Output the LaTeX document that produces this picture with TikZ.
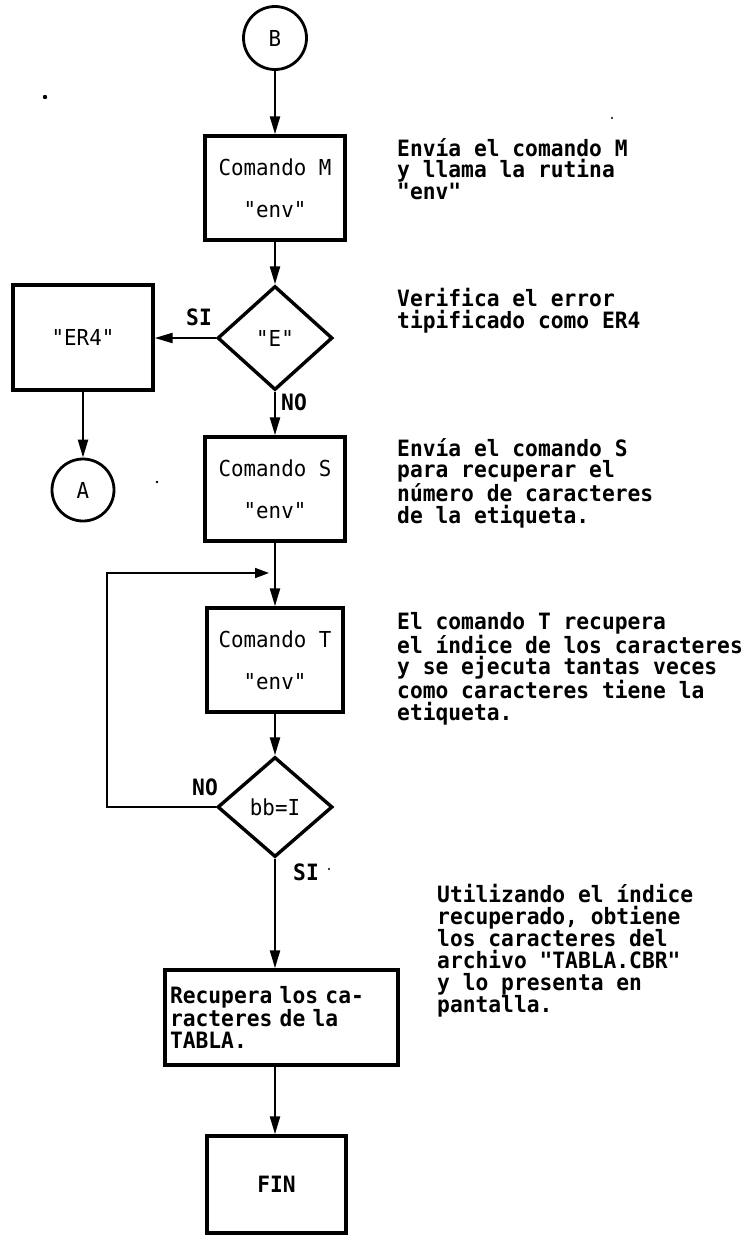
\documentclass[tikz,border=0pt]{standalone}
\usepackage{fontspec}
\usetikzlibrary{shapes.geometric,arrows.meta}
\newfontfamily\dmono[FakeStretch=0.945]{DejaVu Sans Mono}
\newcommand\notefont{\dmono\bfseries\fontsize{22.5}{21.6}\selectfont}
\newcommand\boxfont{\dmono\fontsize{22}{21.6}\selectfont}
\begin{document}
\begin{tikzpicture}[x=1pt,y=-1pt,
  proc/.style={draw, line width=3.4pt, minimum width=140pt, minimum height=104pt,
               inner sep=0pt, font=\boxfont, align=center},
  dec/.style={draw, diamond, line width=3.4pt, minimum width=115pt, minimum height=104pt,
              inner sep=0pt, font=\boxfont},
  conn/.style={draw, circle, line width=2.8pt, minimum size=63pt, inner sep=0pt, font=\boxfont},
  note/.style={font=\notefont, anchor=north west, align=left, inner sep=0pt},
  lbl/.style={font=\notefont, inner sep=0pt},
  flow/.style={line width=2.3pt, -{Triangle[length=18pt,width=10pt]}},
  backflow/.style={line width=1.7pt, -{Triangle[length=14pt,width=10pt]}},
  speck/.style={fill=black, draw=none}]
\useasboundingbox (0,0) rectangle (748,1235);

% flowchart nodes
\node[conn] (B) at (275,38) {B};
\node[proc] (M) at (275,188) {Comando M\\[20pt]"env"};
\node[dec] (E) at (275,338) {"E"};
\node[proc, minimum height=105pt] (ER4) at (83,337.5) {"ER4"};
\node[conn, minimum size=62pt] (A) at (83,490) {A};
\node[proc] (S) at (275,489) {Comando S\\[20pt]"env"};
\node[proc, minimum width=136pt] (T) at (275,660) {Comando T\\[20pt]"env"};
\node[dec, minimum height=100pt] (BB) at (275,807) {bb=I};
\node[proc, minimum width=233pt, minimum height=95pt, align=left, text width=223pt]
  (R) at (281.5,1017.5) {\notefont Recupera los ca-\\racteres de la\\TABLA.};
\node[proc, minimum width=139pt, minimum height=97pt] (FIN) at (276.5,1184.5) {\notefont FIN};

% branch labels
\node[lbl] (siE) at (199,317) {SI};
\node[lbl] (noE) at (294,402) {NO};
\node[lbl] (noB) at (205,787) {NO};
\node[lbl] (siB) at (306,872) {SI};

% loop-back route
\coordinate (K) at (107,573);
\coordinate (J) at (269,573);

% connectors
\draw[flow] (B) -- (M);
\draw[flow] (M) -- (E);
\draw[flow] (E.west) -- (E.west -| ER4.east);
\draw[flow] (ER4) -- (A);
\draw[flow] (E) -- (S);
\draw[flow] (S) -- (T);
\draw[flow] (T) -- (BB);
\draw[backflow] (BB.west) -| (K) -- (J);
\draw[flow] (BB.south) -- (BB.south |- R.north);
\draw[flow] (BB.south |- R.south) -- (BB.south |- FIN.north);

% notes
\node[note] (n1) at (397,138) {Envía el comando M\\y llama la rutina\\"env"};
\node[note] (n2) at (397,288) {Verifica el error\\tipificado como ER4};
\node[note] (n3) at (397,438) {Envía el comando S\\para recuperar el\\número de caracteres\\de la etiqueta.};
\node[note] (n4) at (397,612) {El comando T recupera\\el índice de los caracteres\\y se ejecuta tantas veces\\como caracteres tiene la\\etiqueta.};
\node[note] (n5) at (437,884) {Utilizando el índice\\recuperado, obtiene\\los caracteres del\\archivo "TABLA.CBR"\\y lo presenta en\\pantalla.};

% specks on the sheet
\fill[speck] (45,97) circle (2.2pt);
\fill[speck] (612,118) circle (1.2pt);
\fill[speck] (157,482) circle (1.3pt);
\fill[speck] (329,869) circle (1.1pt);
\end{tikzpicture}
\end{document}
